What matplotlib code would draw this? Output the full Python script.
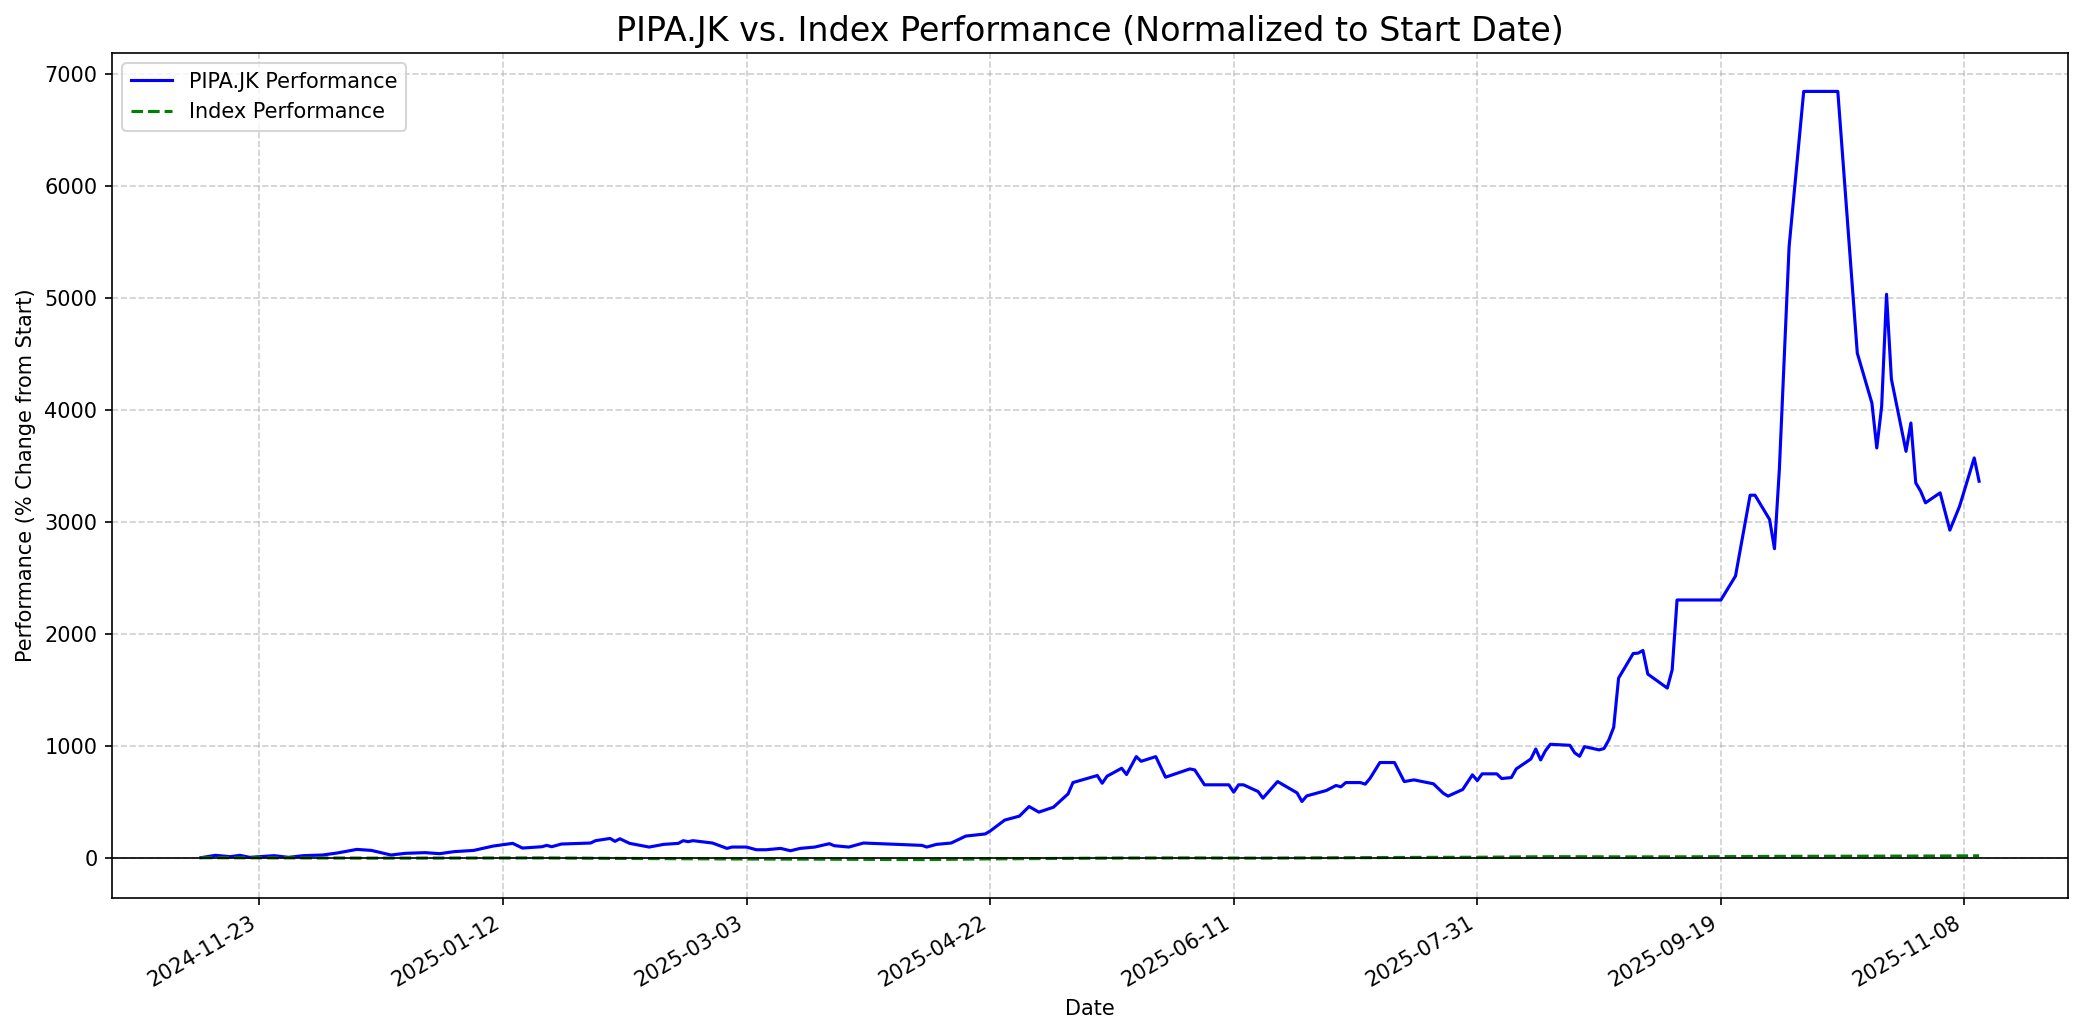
import matplotlib
matplotlib.use("Agg")
import matplotlib.pyplot as plt
import matplotlib.dates as mdates
import pandas as pd

# PIPA.JK performance (% change from start)
stock_dates = [
    "2024-11-11", "2024-11-14", "2024-11-17", "2024-11-19", "2024-11-21", "2024-11-26",
    "2024-11-29", "2024-12-02", "2024-12-06", "2024-12-09", "2024-12-13", "2024-12-16",
    "2024-12-20", "2024-12-23", "2024-12-27", "2024-12-30", "2025-01-02", "2025-01-06",
    "2025-01-10", "2025-01-14", "2025-01-16", "2025-01-20", "2025-01-21", "2025-01-22",
    "2025-01-24", "2025-01-30", "2025-01-31", "2025-02-03", "2025-02-04", "2025-02-05",
    "2025-02-07", "2025-02-11", "2025-02-14", "2025-02-17", "2025-02-18", "2025-02-19",
    "2025-02-20", "2025-02-24", "2025-02-27", "2025-02-28", "2025-03-03", "2025-03-05",
    "2025-03-07", "2025-03-10", "2025-03-12", "2025-03-14", "2025-03-17", "2025-03-20",
    "2025-03-21", "2025-03-24", "2025-03-27", "2025-04-08", "2025-04-09", "2025-04-11",
    "2025-04-14", "2025-04-17", "2025-04-21", "2025-04-22", "2025-04-25", "2025-04-28",
    "2025-04-30", "2025-05-02", "2025-05-05", "2025-05-08", "2025-05-09", "2025-05-14",
    "2025-05-15", "2025-05-16", "2025-05-19", "2025-05-20", "2025-05-22", "2025-05-23",
    "2025-05-26", "2025-05-28", "2025-06-02", "2025-06-03", "2025-06-05", "2025-06-10",
    "2025-06-11", "2025-06-12", "2025-06-13", "2025-06-16", "2025-06-17", "2025-06-20",
    "2025-06-24", "2025-06-25", "2025-06-26", "2025-06-30", "2025-07-02", "2025-07-03",
    "2025-07-04", "2025-07-07", "2025-07-08", "2025-07-09", "2025-07-11", "2025-07-14",
    "2025-07-16", "2025-07-18", "2025-07-22", "2025-07-24", "2025-07-25", "2025-07-28",
    "2025-07-30", "2025-07-31", "2025-08-01", "2025-08-04", "2025-08-05", "2025-08-07",
    "2025-08-08", "2025-08-11", "2025-08-12", "2025-08-13", "2025-08-14", "2025-08-15",
    "2025-08-19", "2025-08-20", "2025-08-21", "2025-08-22", "2025-08-25", "2025-08-26",
    "2025-08-27", "2025-08-28", "2025-08-29", "2025-09-01", "2025-09-02", "2025-09-03",
    "2025-09-04", "2025-09-08", "2025-09-09", "2025-09-10", "2025-09-19", "2025-09-22",
    "2025-09-25", "2025-09-26", "2025-09-29", "2025-09-30", "2025-10-01", "2025-10-03",
    "2025-10-06", "2025-10-13", "2025-10-17", "2025-10-20", "2025-10-21", "2025-10-22",
    "2025-10-23", "2025-10-24", "2025-10-27", "2025-10-28", "2025-10-29", "2025-10-30",
    "2025-10-31", "2025-11-03", "2025-11-05", "2025-11-07", "2025-11-10", "2025-11-11",
]
stock_perf = [
    0, 21, 9, 21, 3, 18,
    3, 18, 24, 42, 74, 65,
    24, 39, 45, 36, 54, 65,
    104, 128, 86, 98, 110, 98,
    122, 131, 152, 172, 146, 169,
    128, 95, 119, 128, 152, 143,
    152, 131, 83, 95, 95, 71,
    71, 83, 62, 83, 95, 125,
    107, 95, 131, 110, 95, 119,
    131, 193, 212, 238, 336, 371,
    457, 407, 451, 570, 671, 734,
    665, 728, 799, 743, 903, 861,
    903, 719, 793, 784, 651, 651,
    585, 651, 651, 591, 532, 680,
    579, 502, 552, 600, 645, 633,
    671, 671, 657, 710, 850, 850,
    680, 695, 660, 576, 550, 609,
    740, 689, 749, 749, 707, 716,
    793, 882, 971, 873, 956, 1013,
    1004, 936, 906, 992, 963, 975,
    1052, 1165, 1604, 1824, 1827, 1851,
    1640, 1515, 1678, 2302, 2302, 2516,
    3238, 3238, 3021, 2760, 3467, 5457,
    6845, 6845, 4507, 4061, 3660, 4031,
    5033, 4275, 3630, 3883, 3348, 3274,
    3170, 3259, 2926, 3140, 3571, 3363,
]

# Index performance (% change from start)
index_dates = [
    "2024-11-11", "2024-12-02", "2024-12-16", "2025-01-06", "2025-01-20", "2025-02-03",
    "2025-02-17", "2025-03-03", "2025-03-17", "2025-04-08", "2025-04-21", "2025-05-05",
    "2025-05-19", "2025-06-02", "2025-06-16", "2025-07-01", "2025-07-15", "2025-08-01",
    "2025-08-15", "2025-09-01", "2025-09-15", "2025-10-01", "2025-10-15", "2025-11-03",
    "2025-11-11",
]
index_perf = [
    0, -2, -4, -3, -2, -6,
    -9, -12, -13, -17, -11, -7,
    -3, -2, -4, -1, 2, 4,
    9, 7, 8, 12, 13, 15,
    17,
]

tick_dates = ["2024-11-23", "2025-01-12", "2025-03-03", "2025-04-22",
              "2025-06-11", "2025-07-31", "2025-09-19", "2025-11-08"]

fig = plt.figure(figsize=(2084 / 150, 1035 / 150), dpi=150)
ax = fig.add_axes([112 / 2084, 1 - 898 / 1035, (2068 - 112) / 2084, (898 - 53) / 1035])

ax.plot(pd.to_datetime(stock_dates), stock_perf, color="blue", linewidth=1.5,
        label="PIPA.JK Performance")
ax.plot(pd.to_datetime(index_dates), index_perf, color="green", linestyle="--",
        linewidth=1.5, label="Index Performance")
ax.axhline(0, color="black", linewidth=0.8)

ticks = pd.to_datetime(tick_dates)
ax.set_xticks(ticks)
ax.xaxis.set_major_formatter(mdates.DateFormatter("%Y-%m-%d"))
for lbl in ax.get_xticklabels():
    lbl.set_rotation(30)
    lbl.set_ha("right")

ax.set_title("PIPA.JK vs. Index Performance (Normalized to Start Date)", fontsize=16)
ax.set_xlabel("Date")
ax.set_ylabel("Performance (% Change from Start)")
ax.grid(True, linestyle="--", alpha=0.6)
ax.legend(loc="upper left")

fig.savefig("out.png", dpi=150)
